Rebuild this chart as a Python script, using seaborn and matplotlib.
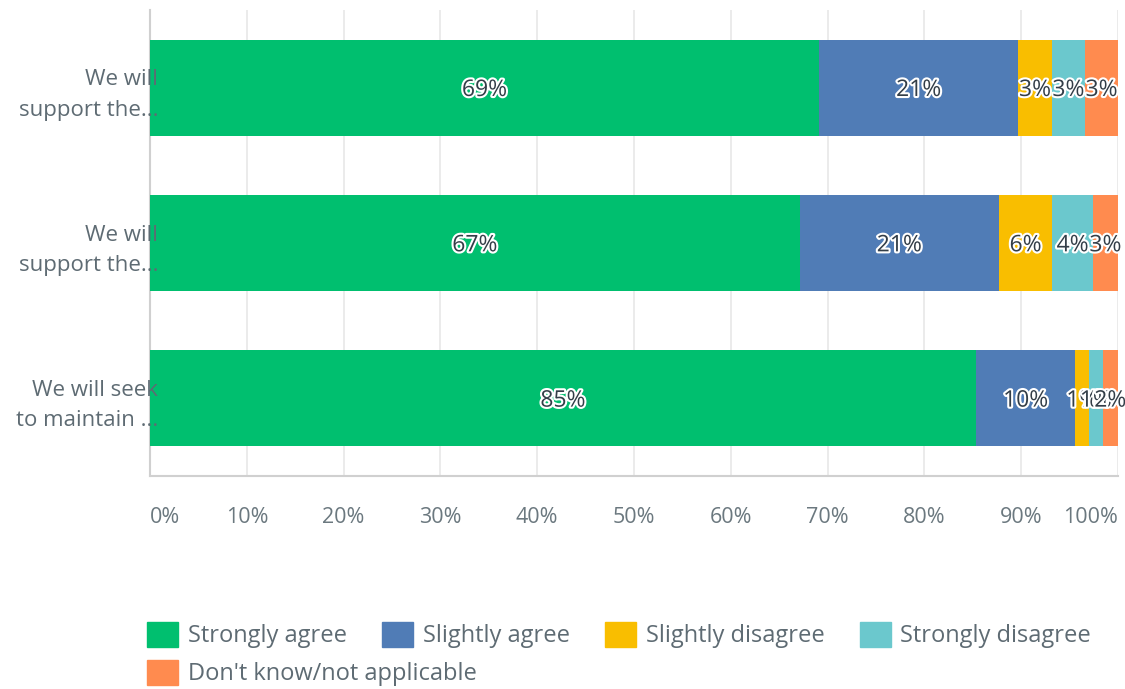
import matplotlib
matplotlib.use("Agg")
import matplotlib.pyplot as plt
import matplotlib.patheffects as pe
from matplotlib.patches import Patch
import numpy as np
import pandas as pd
import seaborn as sns

# ---- data ----
questions = ["We will\nsupport the...", "We will\nsupport the...", "We will seek\nto maintain ..."]
series = ["Strongly agree", "Slightly agree", "Slightly disagree", "Strongly disagree", "Don't know/not applicable"]
strongly_agree = [69.1, 67.1, 85.3]
slightly_agree = [20.6, 20.6, 10.3]
slightly_disagree = [3.45, 5.5, 1.4]
strongly_disagree = [3.45, 4.2, 1.4]
dont_know = [3.4, 2.6, 1.6]
x_ticks = [0, 10, 20, 30, 40, 50, 60, 70, 80, 90, 100]
x_tick_labels = ["0%", "10%", "20%", "30%", "40%", "50%", "60%", "70%", "80%", "90%", "100%"]

colors = ["#00bf6f", "#507cb6", "#f9be00", "#6bc8cd", "#ff8b4f"]

sns.set_theme(style="white")
plt.rcParams["font.family"] = ["Open Sans", "DejaVu Sans"]

vals = np.array([strongly_agree, slightly_agree, slightly_disagree, strongly_disagree, dont_know])
cum = np.cumsum(vals, axis=0)
idx = list(range(len(questions)))

fig = plt.figure(figsize=(11.25, 6.89), dpi=100)
ax = fig.add_axes([150 / 1125, 1 - 476 / 689, 968 / 1125, 466 / 689])

# draw cumulative bars from last series to first so earlier segments overlay
for i in range(len(series) - 1, -1, -1):
    df = pd.DataFrame({"q": idx, "v": cum[i]})
    sns.barplot(data=df, x="v", y="q", orient="h", color=colors[i], width=0.62,
                saturation=1, ax=ax, order=idx, linewidth=0, zorder=2)

# data labels
for i in range(len(series)):
    for j in idx:
        center = cum[i, j] - vals[i, j] / 2
        ax.text(center, j + 0.015, f"{round(vals[i, j])}%", ha="center", va="center",
                fontsize=16.5, color="#333e48", zorder=5,
                path_effects=[pe.withStroke(linewidth=3, foreground="white")])

ax.set_xlim(0, 100)
ax.set_ylim(2.5, -0.5)
ax.set_xlabel("")
ax.set_ylabel("")
ax.set_xticks(x_ticks)
ax.set_xticklabels(x_tick_labels)
tl = ax.get_xticklabels()
tl[0].set_ha("left")
tl[-1].set_ha("right")
ax.set_yticks(idx)
ax.set_yticklabels(questions, ha="right", linespacing=1.6)
ax.tick_params(axis="x", length=0, pad=22, labelsize=15.5, labelcolor="#6b787f")
ax.tick_params(axis="y", length=0, pad=-6, labelsize=16, labelcolor="#5e6b73")
ax.xaxis.grid(True, color="#e8e8e8", linewidth=1.2, zorder=0)
ax.set_axisbelow(True)
ax.yaxis.set_zorder(10)
for s in ["top", "right"]:
    ax.spines[s].set_visible(False)
ax.spines["left"].set_color("#d0d0d0")
ax.spines["bottom"].set_color("#d0d0d0")
ax.spines["left"].set_linewidth(1.5)
ax.spines["bottom"].set_linewidth(1.5)
ax.spines["left"].set_zorder(1)

# legend (two rows, first row 4 items, second row 1 item)
handles = [Patch(facecolor=c, edgecolor=c) for c in colors]
leg_kw = dict(frameon=False, fontsize=17, handlelength=1.3, handleheight=1.3,
              handletextpad=0.42, columnspacing=1.5, borderpad=0, borderaxespad=0,
              labelcolor="#5e6b73")
fig.legend(handles[:4], series[:4], ncol=4, loc="center left",
           bbox_to_anchor=(147 / 1125, 1 - 635 / 689), **leg_kw)
fig.legend(handles[4:], series[4:], ncol=1, loc="center left",
           bbox_to_anchor=(147 / 1125, 1 - 673 / 689), **leg_kw)

fig.savefig("out.png", dpi=100)
